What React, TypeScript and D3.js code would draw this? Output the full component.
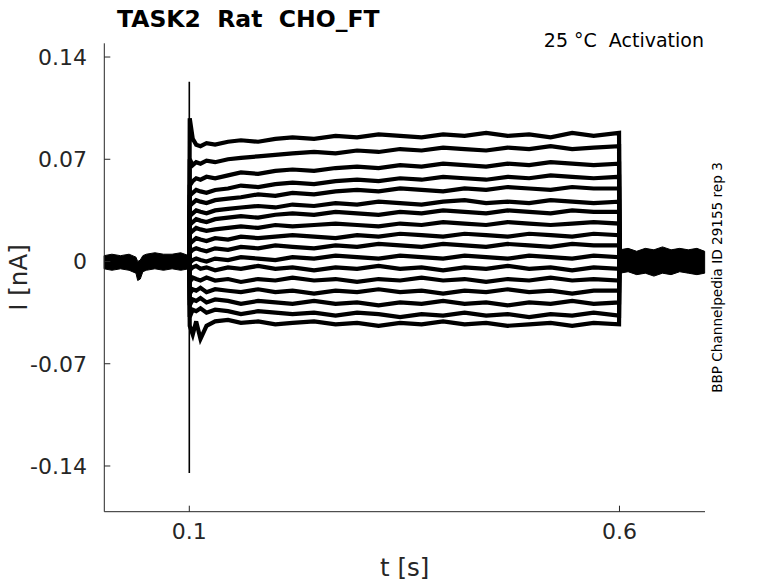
import * as d3 from 'd3';

// step protocol timing (s) and the holding level (pA)
const stepStart = 0.1;
const stepEnd = 0.6;
const holdingCurrent = 0;

// sample times inside the step (s)
const stepTimes = [0.1005, 0.104, 0.108, 0.113, 0.12, 0.13, 0.145, 0.16, 0.18, 0.2, 0.22, 0.245, 0.27, 0.295, 0.32, 0.345, 0.37, 0.395, 0.42, 0.445, 0.47, 0.495, 0.52, 0.545, 0.57, 0.5995];

// current traces during the step (pA), one per voltage level, top to bottom
const trace1 = [98, 84, 80, 79, 81, 80, 82, 83, 82, 84, 85, 84, 86, 85, 87, 86, 85, 87, 86, 88, 86, 87, 85, 88, 86, 88];
const trace2 = [70, 66, 68, 67, 69, 68, 70, 71, 72, 73, 74, 75, 74, 76, 75, 77, 76, 78, 77, 76, 78, 77, 79, 77, 78, 79];
const trace3 = [52, 55, 57, 56, 58, 57, 59, 61, 60, 62, 63, 62, 64, 65, 64, 66, 65, 67, 66, 65, 67, 66, 68, 67, 66, 67];
const trace4 = [45, 47, 49, 48, 47, 49, 50, 52, 51, 53, 54, 53, 55, 56, 55, 57, 56, 58, 57, 56, 58, 57, 59, 58, 57, 58];
const trace5 = [38, 40, 42, 41, 40, 42, 43, 44, 46, 45, 47, 46, 48, 49, 48, 50, 49, 48, 50, 49, 51, 50, 49, 51, 50, 50];
const trace6 = [31, 33, 35, 34, 33, 35, 36, 37, 38, 37, 39, 38, 40, 39, 41, 40, 39, 41, 42, 40, 41, 40, 42, 41, 40, 41];
const trace7 = [25, 27, 29, 28, 27, 29, 30, 31, 30, 32, 33, 32, 34, 33, 32, 34, 33, 35, 34, 33, 35, 34, 33, 35, 34, 34];
const trace8 = [19, 21, 23, 22, 21, 22, 23, 24, 23, 25, 24, 25, 26, 25, 24, 26, 25, 27, 26, 25, 27, 26, 25, 26, 27, 26];
const trace9 = [12, 14, 16, 15, 14, 16, 15, 17, 16, 17, 18, 17, 16, 18, 17, 19, 18, 17, 19, 18, 17, 19, 18, 17, 19, 18];
const trace10 = [6, 8, 9, 8, 7, 9, 8, 10, 9, 11, 10, 9, 11, 10, 12, 11, 10, 12, 11, 10, 12, 11, 10, 12, 11, 11];
const trace11 = [-1, 1, 2, 1, 0, 2, 1, 3, 2, 1, 3, 2, 4, 3, 2, 4, 3, 2, 4, 3, 2, 4, 3, 2, 4, 3];
const trace12 = [-6, -4, -3, -5, -4, -6, -4, -5, -3, -5, -4, -6, -4, -5, -3, -5, -4, -6, -4, -5, -3, -5, -4, -6, -4, -5];
const trace13 = [-14, -11, -12, -13, -11, -13, -12, -14, -12, -13, -11, -13, -12, -14, -12, -13, -11, -13, -12, -14, -12, -13, -11, -13, -12, -13];
const trace14 = [-22, -19, -20, -18, -21, -19, -20, -21, -19, -21, -20, -22, -20, -21, -19, -21, -20, -22, -20, -21, -19, -21, -20, -22, -20, -20];
const trace15 = [-30, -26, -27, -25, -28, -26, -27, -29, -27, -28, -29, -27, -29, -28, -30, -28, -29, -27, -29, -28, -30, -28, -29, -27, -29, -28];
const trace16 = [-38, -33, -34, -32, -35, -33, -34, -36, -34, -35, -36, -35, -37, -35, -36, -38, -36, -37, -35, -37, -36, -38, -36, -37, -35, -37];
const trace17 = [-44, -50, -41, -53, -44, -41, -40, -42, -41, -43, -42, -41, -43, -42, -44, -42, -43, -41, -43, -42, -44, -43, -42, -44, -42, -43];
const traces = [trace1, trace2, trace3, trace4, trace5, trace6, trace7, trace8, trace9, trace10, trace11, trace12, trace13, trace14, trace15, trace16, trace17];

// capacitive transient at step onset (pA)
const spikeTimes = [0.1, 0.1, 0.1, 0.1];
const spikeValues = [0, 123, -144.8, 0];

// noise envelope of all traces before the step (pA)
const preTimes = [0.001, 0.01, 0.02, 0.03, 0.038, 0.04, 0.043, 0.046, 0.05, 0.06, 0.07, 0.08, 0.09, 0.0995];
const preUpper = [4, 5, 4, 5, 3, 0, 1, 4, 5, 6, 5, 5, 6, 4];
const preLower = [-5, -6, -5, -6, -8, -13, -12, -7, -6, -5, -6, -5, -6, -5];

// noise envelope after the step (pA)
const postTimes = [0.6005, 0.61, 0.62, 0.63, 0.64, 0.65, 0.66, 0.67, 0.68, 0.69, 0.699];
const postUpper = [8, 9, 7, 9, 8, 10, 8, 9, 8, 9, 7];
const postLower = [-8, -7, -9, -8, -10, -8, -9, -7, -8, -9, -8];

const xTicks = [0.1, 0.6];
const xTickLabels = ['0.1', '0.6'];
const yTicks = [0.14, 0.07, 0, -0.07, -0.14];
const yTickLabels = ['0.14', '0.07', '0', '-0.07', '-0.14'];

const W = 778;
const H = 583;
const FONT = '"DejaVu Sans", sans-serif';
const AXIS = '#262626';

export default function App() {
  const x = d3.scaleLinear().domain([0.0012, 0.6994]).range([104.3, 705]);
  const y = d3.scaleLinear().domain([-0.1713, 0.1494]).range([511.7, 43.3]);

  const line = d3.line<[number, number]>()
    .x(d => x(d[0]))
    .y(d => y(d[1] / 1000));

  const prePath = d3.area<number>()
    .x(i => x(preTimes[i]))
    .y0(i => y(preLower[i] / 1000))
    .y1(i => y(preUpper[i] / 1000))(preTimes.map((_, i) => i));

  const postPath = d3.area<number>()
    .x(i => x(postTimes[i]))
    .y0(i => y(postLower[i] / 1000))
    .y1(i => y(postUpper[i] / 1000))(postTimes.map((_, i) => i));

  const [x0, x1] = x.range();
  const [yb, yt] = y.range();

  return (
    <div style={{ position: 'absolute', left: 0, top: 0 }}>
      <svg width={W} height={H} style={{ display: 'block', background: '#fff' }}>
        {/* baseline noise */}
        <path d={prePath ?? ''} fill="#000" stroke="#000" strokeWidth={1} />
        <path d={postPath ?? ''} fill="#000" stroke="#000" strokeWidth={1} />

        {/* step traces */}
        {traces.map((vals, k) => {
          const pts: [number, number][] = [
            [stepStart, holdingCurrent],
            ...stepTimes.map((t, i) => [t, vals[i]] as [number, number]),
            [stepEnd, holdingCurrent],
          ];
          return (
            <path key={k} d={line(pts) ?? ''} fill="none" stroke="#000"
              strokeWidth={4.2} strokeLinejoin="miter" />
          );
        })}

        {/* onset transient */}
        <path d={line(spikeTimes.map((t, i) => [t, spikeValues[i]] as [number, number])) ?? ''}
          fill="none" stroke="#000" strokeWidth={1.6} />

        {/* axes */}
        <line x1={x0} x2={x0} y1={yt} y2={yb} stroke={AXIS} strokeWidth={1} />
        <line x1={x0} x2={x1} y1={yb} y2={yb} stroke={AXIS} strokeWidth={1} />
        {yTicks.map((v, i) => (
          <g key={i}>
            <line x1={x0} x2={x0 + 6} y1={y(v)} y2={y(v)} stroke={AXIS} strokeWidth={1} />
            <text x={87} y={y(v)} dy="0.36em" textAnchor="end" fontFamily={FONT}
              fontSize={22} fill={AXIS}>{yTickLabels[i]}</text>
          </g>
        ))}
        {xTicks.map((v, i) => (
          <g key={i}>
            <line x1={x(v)} x2={x(v)} y1={yb} y2={yb - 6} stroke={AXIS} strokeWidth={1} />
            <text x={x(v)} y={539} textAnchor="middle" fontFamily={FONT}
              fontSize={22} fill={AXIS}>{xTickLabels[i]}</text>
          </g>
        ))}

        {/* labels */}
        <text x={(x0 + x1) / 2} y={576} textAnchor="middle" fontFamily={FONT}
          fontSize={24.5} fill={AXIS}>t [s]</text>
        <text transform={`translate(27,${(yt + yb) / 2}) rotate(-90)`} textAnchor="middle"
          fontFamily={FONT} fontSize={24.5} fill={AXIS}>I [nA]</text>
        <text x={117} y={27} fontFamily={FONT} fontWeight="bold" fontSize={23.5}
          fill="#000" style={{ whiteSpace: 'pre' }}>TASK2  Rat  CHO_FT</text>
        <text x={704} y={47} textAnchor="end" fontFamily={FONT} fontSize={19}
          fill="#000" style={{ whiteSpace: 'pre' }}>25 °C  Activation</text>
        <text transform={`translate(722,${(yt + yb) / 2}) rotate(-90)`} textAnchor="middle"
          fontFamily={FONT} fontSize={13.6} fill="#000">BBP Channelpedia ID 29155 rep 3</text>
      </svg>
    </div>
  );
}
